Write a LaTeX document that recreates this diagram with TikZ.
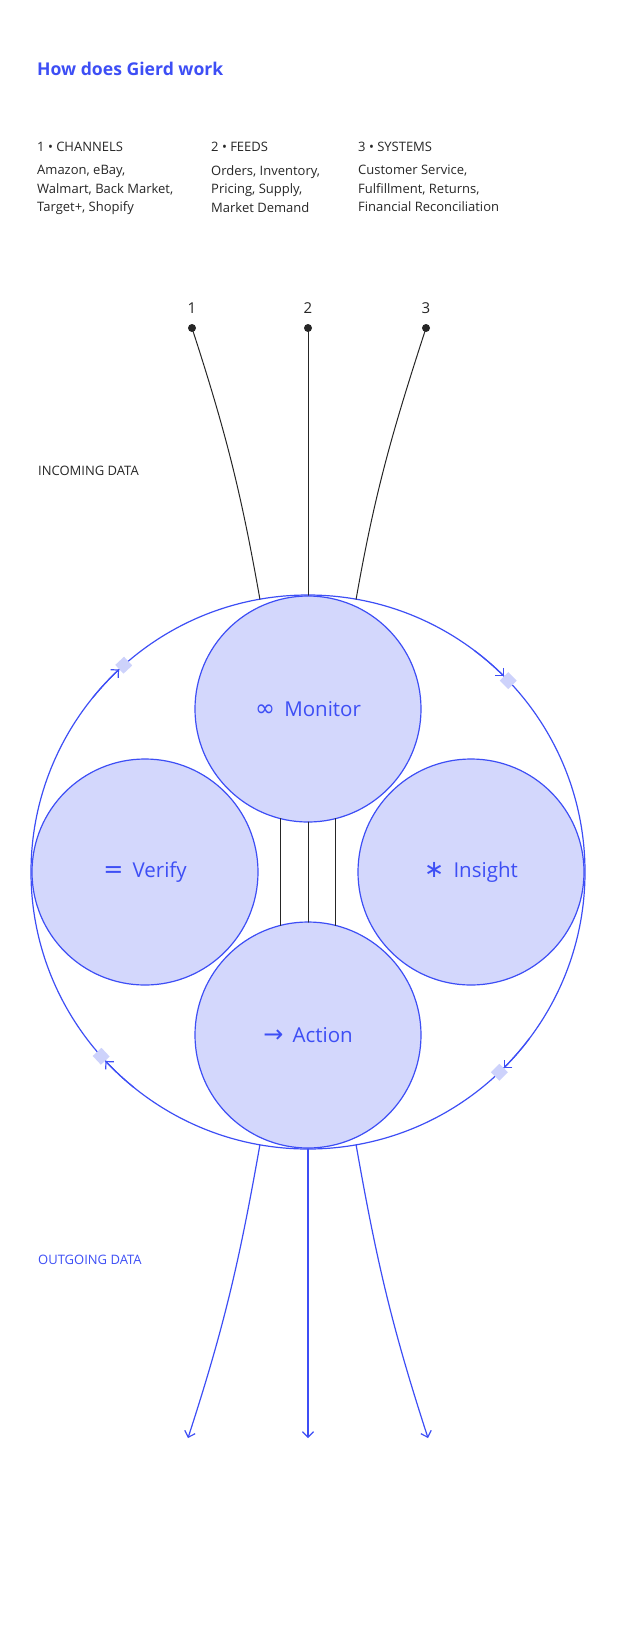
\documentclass[tikz,border=0pt]{standalone}
\usepackage{fontspec}
\setmainfont{Open Sans}
\newfontfamily\symfont{DejaVu Sans}
\usetikzlibrary{arrows.meta,calc}
\definecolor{gblue}{HTML}{3D4EF5}
\definecolor{gfill}{HTML}{D3D7FC}
\definecolor{gmark}{HTML}{CDD2FB}
\definecolor{gink}{HTML}{262626}
\newcommand{\stageicon}[1]{{\symfont\fontsize{24}{24}\selectfont #1}\hspace{0.45em}}

\begin{document}
\begin{tikzpicture}[x=1pt,y=1pt,>={Straight Barb[length=5.5pt,width=11pt]}, line join=round, line cap=round,
	txt/.style={font=\fontsize{13}{18.5}\selectfont, text=gink, inner sep=0pt},
	ring/.style={draw=gblue, line width=1.2pt, circle, inner sep=0pt, outer sep=0pt},
	stage/.style={ring, fill=gfill, minimum size=226pt, text=gblue, font=\fontsize{20.5}{24}\selectfont},
	feed/.style={draw=gink, line width=1pt},
	flow/.style={draw=gblue, line width=1.2pt, ->},
	tick/.style={rectangle, fill=gmark, minimum size=12pt, inner sep=0pt}]
	\useasboundingbox (0,0) rectangle (620,-1628);
	\node[anchor=base west, inner sep=0pt, text=gblue, font=\fontsize{17.6}{20}\selectfont\bfseries] (title) at (37,-75) {How does Gierd work};
	\node[txt, anchor=base west] (hA) at (37,-151) {1 • CHANNELS};
	\node[txt, anchor=base west] (hB) at (211,-151) {2 • FEEDS};
	\node[txt, anchor=base west] (hC) at (358,-151) {3 • SYSTEMS};
	\node[txt, anchor=north west, align=left] (bA) at (37,-165) {Amazon, eBay,\\Walmart, Back Market,\\Target+, Shopify};
	\node[txt, anchor=north west, align=left] (bB) at (211,-165) {Orders, Inventory,\\Pricing, Supply,\\Market Demand};
	\node[txt, anchor=north west, align=left] (bC) at (358,-165) {Customer Service,\\Fulfillment, Returns,\\Financial Reconciliation};
	\node[txt, font=\fontsize{15}{18}\selectfont] (n1) at (192,-308) {1};
	\node[txt, font=\fontsize{15}{18}\selectfont] (n2) at (308,-308) {2};
	\node[txt, font=\fontsize{15}{18}\selectfont] (n3) at (426,-308) {3};
	\node[circle, fill=gink, inner sep=0pt, minimum size=8pt] (d1) at (192,-328) {};
	\node[circle, fill=gink, inner sep=0pt, minimum size=8pt] (d2) at (308,-328) {};
	\node[circle, fill=gink, inner sep=0pt, minimum size=8pt] (d3) at (426,-328) {};
	\node[txt, anchor=base west] (inc) at (38,-475) {INCOMING DATA};
	\node[txt, anchor=base west, text=gblue] (outg) at (38,-1264) {OUTGOING DATA};
	\coordinate (C) at (308,-872);
	\node[ring, minimum size=554pt] (big) at (C) {};
	\node[stage] (mon) at (308,-709) {\stageicon{∞}Monitor};
	\node[stage] (ver) at (145,-872) {\stageicon{=}Verify};
	\node[stage] (ins) at (471,-872) {\stageicon{∗}Insight};
	\node[stage] (act) at (308,-1035) {\stageicon{→}Action};
	\draw[feed] (d1.center) to[out=-72,in=100] (big.100);
	\draw[feed] (d2.center) -- (big.north);
	\draw[feed] (d3.center) to[out=-108,in=80] (big.80);
	\draw[feed] (mon.-104) -- (act.104);
	\draw[feed] (mon.south) -- (act.north);
	\draw[feed] (mon.-76) -- (act.76);
	\coordinate (o1) at (188,-1438);
	\coordinate (o2) at (308,-1438);
	\coordinate (o3) at (428,-1438);
	\draw[flow] (big.-100) to[out=-100,in=72] (o1);
	\draw[flow] (big.south) -- (o2);
	\draw[flow] (big.-80) to[out=-80,in=108] (o3);
	\foreach \a in {133,45,-45,-137}{
		\draw[flow] ($(C)+(\a+8:277)$) arc[start angle=\a+8, end angle=\a, radius=277];
		\node[tick, rotate=\a] at ($(C)+(\a-1.3:277)$) {};
	}
\end{tikzpicture}
\end{document}
